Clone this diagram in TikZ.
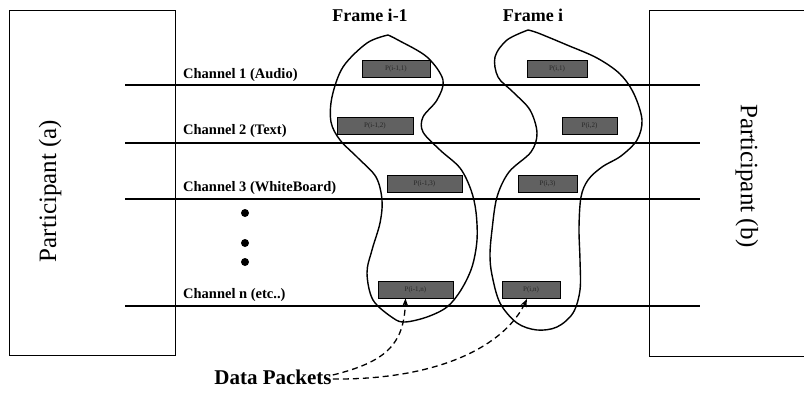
\documentclass[tikz,border=0pt]{standalone}
\usepackage{fontspec}
\setmainfont{Liberation Serif}
\usetikzlibrary{arrows.meta}
\begin{document}
\begin{tikzpicture}[x=1pt,y=-1pt,
  chan/.style={line width=1.3pt},
  partbox/.style={line width=1pt},
  loopline/.style={line width=1.4pt, smooth, tension=0.55},
  pbox/.style={draw=black, line width=0.8pt, fill=black!62, minimum height=17pt, inner sep=0pt,
    font=\fontsize{7}{7}\selectfont, text=black!85},
  chlabel/.style={anchor=base west, inner sep=0pt, font=\fontsize{14.5}{16}\selectfont\bfseries},
  framelabel/.style={inner sep=0pt, font=\fontsize{18}{20}\selectfont\bfseries},
  partlabel/.style={inner sep=0pt, font=\fontsize{25}{27}\selectfont},
  dotmark/.style={fill=black, circle, inner sep=0pt, minimum size=8pt},
  dasharrow/.style={line width=1.3pt, dash pattern=on 6pt off 4pt, -{Stealth[length=8pt,width=6pt]}}
]
\useasboundingbox (0,0) rectangle (804,396);

% participant boxes
\node[draw, partbox, minimum width=166pt, minimum height=345pt, inner sep=0pt] (pa) at (92,183) {};
\node[partlabel, rotate=90] (pal) at (50,191) {Participant (a)};
\coordinate (rb1) at (804,11);
\coordinate (rb2) at (649,11);
\coordinate (rb3) at (649,356);
\coordinate (rb4) at (804,356);
\draw[partbox] (rb1) -- (rb2) -- (rb3) -- (rb4);
\node[partlabel, rotate=-90] (pbl) at (747,176) {Participant (b)};

% channels
\foreach \i/\y in {1/85,2/143,3/199,4/306}{
  \coordinate (cl\i) at (125,\y);
  \coordinate (cr\i) at (700,\y);
  \draw[chan] (cl\i) -- (cr\i);
}
\node[chlabel] (c1) at (183,78) {Channel 1 (Audio)};
\node[chlabel] (c2) at (183,134) {Channel 2 (Text)};
\node[chlabel] (c3) at (183,191) {Channel 3 (WhiteBoard)};
\node[chlabel] (c4) at (183,298) {Channel n (etc..)};

\node[dotmark] (d1) at (245,213) {};
\node[dotmark] (d2) at (245,243) {};
\node[dotmark] (d3) at (245,262) {};

% packets
\node[pbox, minimum width=68pt] (pA1) at (396,68.5) {P(i-1,1)};
\node[pbox, minimum width=76pt] (pA2) at (375,125.5) {P(i-1,2)};
\node[pbox, minimum width=75pt] (pA3) at (424.5,183.5) {P(i-1,3)};
\node[pbox, minimum width=75pt] (pA4) at (415.5,289.5) {P(i-1,n)};
\node[pbox, minimum width=60pt] (pB1) at (557,68.5) {P(i,1)};
\node[pbox, minimum width=55pt] (pB2) at (589.5,125.5) {P(i,2)};
\node[pbox, minimum width=59pt] (pB3) at (547.5,183.5) {P(i,3)};
\node[pbox, minimum width=58pt] (pB4) at (531,290) {P(i,n)};

% frame labels
\node[framelabel] (fA) at (370,15) {Frame i-1};
\node[framelabel] (fB) at (533,15) {Frame i};

% frame loops
\draw[loopline] plot coordinates {(388,35) (367,43) (343,67) (332,97) (331,122) (340,140) (358,158) (376,177) (382,200) (380,223) (372,250) (367,273) (373,300) (393,318) (405,322) (427,317) (447,307) (461,290) (472,267) (477,240) (476,212) (471,190) (460,168) (440,150) (423,132) (423,117) (437,100) (443,80) (427,57) (398,40) (388,35)};
\draw[loopline] plot coordinates {(528,30) (507,40) (495,57) (498,77) (513,92) (530,110) (537,133) (531,152) (509,172) (497,197) (492,230) (490,255) (492,275) (500,303) (517,323) (537,330) (557,327) (573,313) (580,290) (580,260) (579,228) (581,197) (588,180) (602,167) (621,156) (637,140) (642,120) (634,94) (620,74) (597,58) (567,45) (538,33) (528,30)};

% data packets
\node[inner sep=1pt, font=\fontsize{21}{23}\selectfont\bfseries] (dp) at (273,377) {Data Packets};
\draw[dasharrow] ([yshift=2pt]dp.east) .. controls (385,362) and (404,345) .. ([xshift=-10pt]pA4.south);
\draw[dasharrow] ([yshift=-2pt]dp.east) .. controls (440,380) and (505,345) .. ([xshift=-4pt]pB4.south);
\end{tikzpicture}
\end{document}
